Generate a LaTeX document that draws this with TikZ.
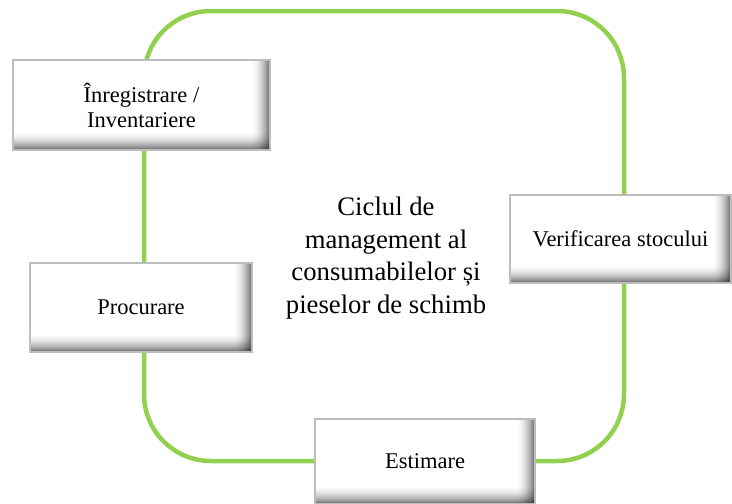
\documentclass[tikz,border=0pt]{standalone}
\usepackage{fontspec}
\setmainfont{Liberation Serif}
\definecolor{cyclegreen}{HTML}{92D050}
\definecolor{boxedge}{HTML}{BDBDBD}
\tikzset{
  stagebox/.style={draw=boxedge, line width=1.6pt, fill=white, inner sep=0pt,
    align=center, font=\fontsize{22.5}{25}\selectfont,
    path picture={
      % inner bevel built from thin translucent strips along the right and bottom edges
      \foreach \i in {0,...,19}{
        \pgfmathsetmacro\bevelop{0.55*(\i/19)^2}
        \fill[black, opacity=\bevelop]
          ([xshift=-20pt+\i pt]path picture bounding box.north east) rectangle
          ([xshift=-19pt+\i pt]path picture bounding box.south east);
        \fill[black, opacity=\bevelop]
          ([yshift=20pt-\i pt]path picture bounding box.south west) rectangle
          ([yshift=19pt-\i pt]path picture bounding box.south east);
      }
    }},
  cycleline/.style={draw=cyclegreen, line width=4.5pt, rounded corners=67pt},
  titletext/.style={align=center, font=\fontsize{26.7}{32.5}\selectfont},
}
\begin{document}
\begin{tikzpicture}[x=1pt,y=1pt]
\useasboundingbox (0,0) rectangle (732,-504);
% the management cycle
\coordinate (nw) at (144,-11);
\coordinate (se) at (624,-461);
\draw[cycleline] (nw) rectangle (se);
% stages placed on the cycle
\node[stagebox, minimum width=257pt, minimum height=90pt] (reg) at (141.5,-105) {Înregistrare /\\Inventariere};
\node[stagebox, minimum width=222pt, minimum height=89pt] (proc) at (141,-307.5) {Procurare};
\node[stagebox, minimum width=221pt, minimum height=88pt] (ver) at (620.5,-239) {Verificarea stocului};
\node[stagebox, minimum width=220pt, minimum height=85pt] (est) at (425,-461.5) {Estimare};
% central caption
\node[titletext] (title) at (386,-258) {Ciclul de\\management al\\consumabilelor și\\pieselor de schimb};
\end{tikzpicture}
\end{document}
